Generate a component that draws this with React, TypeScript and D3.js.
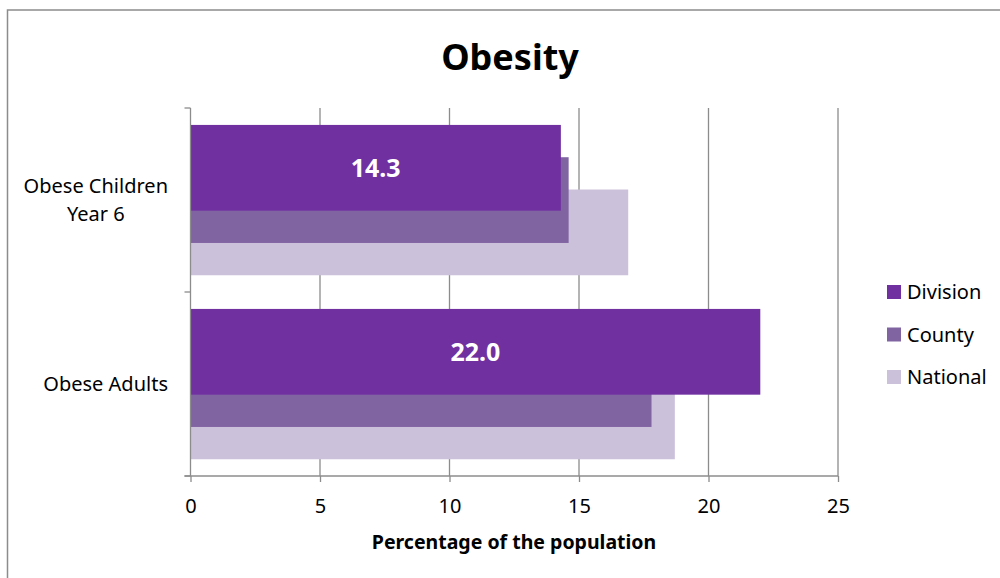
import { useRef, useEffect } from 'react';
import * as d3 from 'd3';

const categories = ['Obese Children\nYear 6', 'Obese Adults'];
const seriesNames = ['Division', 'County', 'National'];
const division = [14.3, 22.0];
const county = [14.6, 17.8];
const national = [16.9, 18.7];
const xTicks = [0, 5, 10, 15, 20, 25];
const colors = ['#7030A0', '#8064A2', '#CCC1DA'];

const FONT = '"Noto Sans", sans-serif';

export default function App() {
  const svgRef = useRef<SVGSVGElement>(null);

  useEffect(() => {
    const svg = d3.select(svgRef.current);
    svg.selectAll('*').remove();

    const W = 1000, H = 578;
    const left = 190.5, right = 838, top = 108, bottom = 476;

    const x = d3.scaleLinear().domain([0, 25]).range([left, right]);
    const y = d3.scaleBand().domain(categories).range([top, bottom]).padding(0);
    const bw = y.bandwidth();
    const barH = bw * 0.466;
    const inset = bw * 0.092;
    const step = bw * 0.1755;

    svg.append('rect').attr('width', W).attr('height', H).attr('fill', '#fff');
    // outer frame (right/bottom edges run off the picture)
    svg.append('rect')
      .attr('x', 7.5).attr('y', 10).attr('width', W + 20).attr('height', H + 20)
      .attr('fill', 'none').attr('stroke', '#8c8c8c').attr('stroke-width', 1.5);

    // title
    svg.append('text')
      .attr('x', 510).attr('y', 70)
      .attr('text-anchor', 'middle')
      .style('font-family', FONT).style('font-weight', 'bold').style('font-size', '36px')
      .text('Obesity');

    // gridlines
    svg.append('g').selectAll('line')
      .data(xTicks.filter(t => t > 0))
      .join('line')
      .attr('x1', d => x(d)).attr('x2', d => x(d))
      .attr('y1', top).attr('y2', bottom)
      .attr('stroke', '#8c8c8c').attr('stroke-width', 1.3);

    // bars, National at the back, Division in front
    const all = [division, county, national];
    for (let s = 2; s >= 0; s--) {
      svg.append('g').selectAll('rect')
        .data(all[s])
        .join('rect')
        .attr('x', x(0))
        .attr('y', (_, i) => (y(categories[i]) as number) + inset + s * step)
        .attr('width', d => x(d) - x(0))
        .attr('height', barH)
        .attr('fill', colors[s]);
    }

    // value labels on Division
    svg.append('g').selectAll('text')
      .data(division)
      .join('text')
      .attr('x', d => (x(0) + x(d)) / 2)
      .attr('y', (_, i) => (y(categories[i]) as number) + inset + barH / 2 + 9)
      .attr('text-anchor', 'middle')
      .attr('fill', '#fff')
      .style('font-family', FONT).style('font-weight', 'bold').style('font-size', '25px')
      .text(d => d.toFixed(1));

    // x axis
    const xAxis = svg.append('g')
      .attr('transform', `translate(0,${bottom})`)
      .call(d3.axisBottom(x).tickValues(xTicks).tickSize(6).tickSizeOuter(0).tickPadding(17));
    xAxis.select('.domain').attr('d', `M${left - 6},0H${right}`);
    xAxis.selectAll('line,path').attr('stroke', '#8c8c8c').attr('stroke-width', 1.3);
    xAxis.selectAll('text')
      .attr('fill', '#000')
      .style('font-family', FONT).style('font-size', '20px');

    // y axis
    const yAxis = svg.append('g')
      .attr('transform', `translate(${left},0)`);
    yAxis.append('line')
      .attr('x1', 0).attr('x2', 0).attr('y1', top).attr('y2', bottom)
      .attr('stroke', '#8c8c8c').attr('stroke-width', 1.3);
    yAxis.selectAll('line.tick')
      .data([top, ...categories.map(c => (y(c) as number) + bw)])
      .join('line')
      .attr('class', 'tick')
      .attr('x1', -6).attr('x2', 0)
      .attr('y1', d => d).attr('y2', d => d)
      .attr('stroke', '#8c8c8c').attr('stroke-width', 1.3);

    // category labels, lines centered within a right-aligned block
    const lineH = 28;
    categories.forEach(c => {
      const lines = c.split('\n');
      const cy = (y(c) as number) + bw / 2;
      const g = svg.append('g');
      const texts = g.selectAll('text')
        .data(lines)
        .join('text')
        .attr('y', (_, i) => cy + 7 + (i - (lines.length - 1) / 2) * lineH)
        .attr('text-anchor', 'middle')
        .style('font-family', FONT).style('font-size', '20px')
        .text(d => d);
      let maxW = 0;
      texts.each(function () {
        maxW = Math.max(maxW, (this as SVGTextElement).getComputedTextLength());
      });
      texts.attr('x', 168 - maxW / 2);
    });

    // axis title
    svg.append('text')
      .attr('x', 514).attr('y', 549)
      .attr('text-anchor', 'middle')
      .style('font-family', FONT).style('font-weight', 'bold').style('font-size', '19.5px')
      .text('Percentage of the population');

    // legend
    const legend = svg.append('g').attr('transform', 'translate(887,285)');
    const item = legend.selectAll('g')
      .data(seriesNames)
      .join('g')
      .attr('transform', (_, i) => `translate(0,${i * 42.5})`);
    item.append('rect')
      .attr('width', 14).attr('height', 14)
      .attr('fill', (_, i) => colors[i]);
    item.append('text')
      .attr('x', 20).attr('y', 14)
      .style('font-family', FONT).style('font-size', '20px')
      .text(d => d);
  }, []);

  return (
    <svg ref={svgRef} width={1000} height={578}
      style={{ position: 'absolute', left: 0, top: 0, display: 'block' }} />
  );
}
